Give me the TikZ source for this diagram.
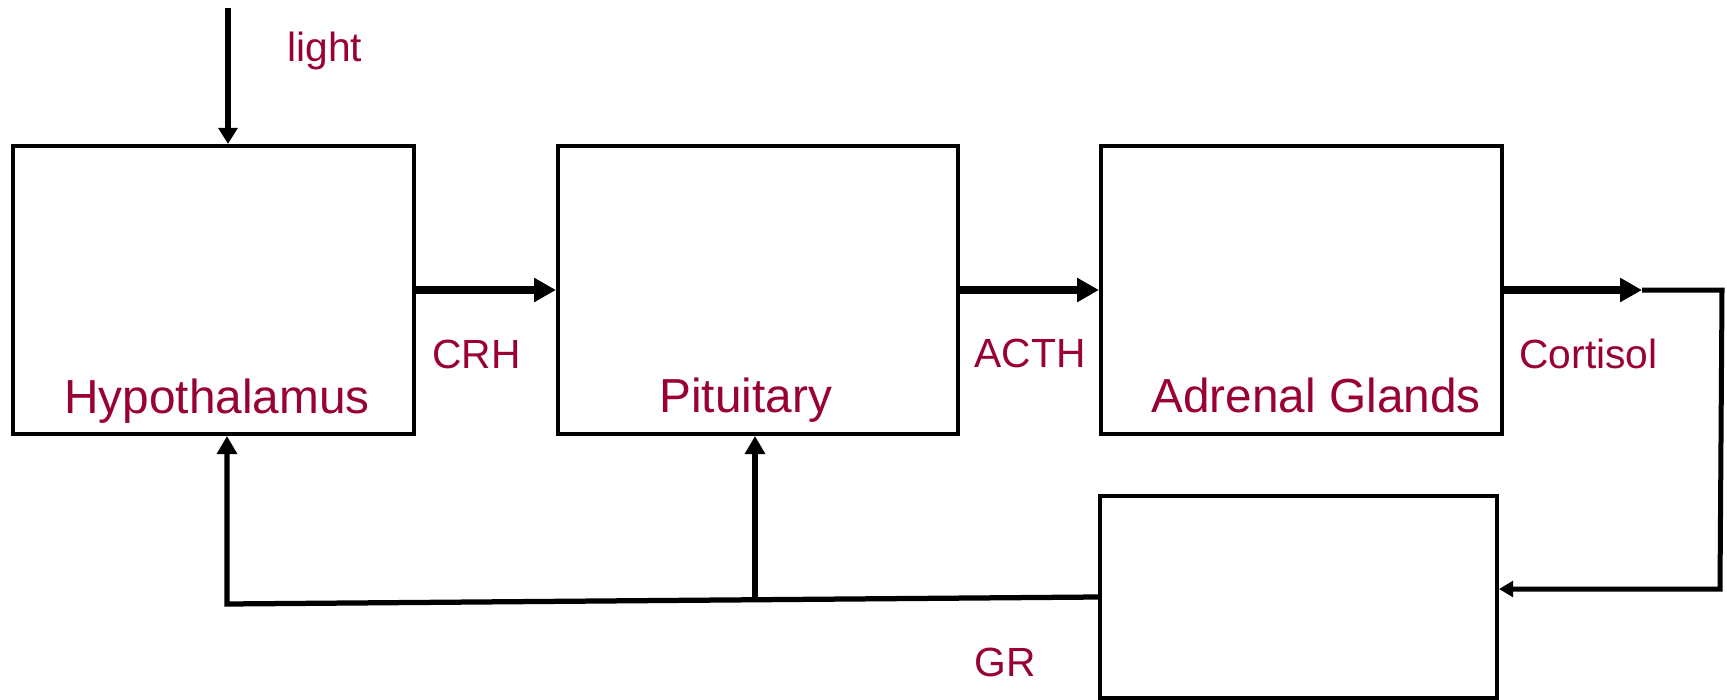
\documentclass[tikz,border=0pt]{standalone}
\usepackage{fontspec}
\setmainfont{Liberation Sans}
\usetikzlibrary{arrows.meta}
\definecolor{labelred}{RGB}{153,0,51}
\tikzset{
  box/.style={draw=black, line width=1.6pt, fill=white, inner sep=0pt, minimum height=115.2pt},
  lbl/.style={text=labelred, anchor=base west, inner sep=0pt, font=\fontsize{16.3pt}{18pt}\selectfont},
  organ/.style={text=labelred, anchor=base west, inner sep=0pt, font=\fontsize{19.1pt}{21pt}\selectfont},
  hormone/.style={line width=3.3pt, -{Triangle[length=8.8pt,width=9.2pt]}},
  lightarrow/.style={line width=2.3pt, -{Triangle[length=6.4pt,width=7.4pt]}},
  feedback/.style={line width=2.1pt, -{Triangle[length=7.2pt,width=7.8pt]}},
  returnline/.style={line width=2pt, -{Triangle[length=5.6pt,width=6.2pt]}}
}
\begin{document}
\begin{tikzpicture}[x=0.4pt, y=-0.4pt]
  \useasboundingbox (0,0) rectangle (1727,700);

  % organ boxes
  \node[box, minimum width=160.4pt] (hyp) at (213.5,290) {};
  \node[box, minimum width=160pt]   (pit) at (758,290) {};
  \node[box, minimum width=160.4pt] (adr) at (1301.5,290) {};
  \node[box, minimum width=158.8pt, minimum height=80.8pt] (gr) at (1298.5,597) {};

  % box titles
  \node[organ] (thyp) at (64,413) {Hypothalamus};
  \node[organ] (tpit) at (659,412) {Pituitary};
  \node[organ] (tadr) at (1151,412) {Adrenal Glands};

  % signal labels
  \node[lbl] (tlight) at (287,62) {light};
  \node[lbl] (tcrh) at (432,368) {CRH};
  \node[lbl] (tacth) at (974,367) {ACTH};
  \node[lbl] (tcort) at (1519,368) {Cortisol};
  \node[lbl] (tgr) at (974,676) {GR};

  % light input
  \coordinate (lt) at (228,8);
  \draw[lightarrow] (lt) -- (lt |- hyp.north);

  % hormone cascade
  \draw[hormone] (hyp.east) -- (pit.west);
  \draw[hormone] (pit.east) -- (adr.west);
  \coordinate (ctip) at (1642,290);
  \draw[hormone] (adr.east) -- (ctip);

  % cortisol loop to the receptor
  \coordinate (c1) at (1722,290);
  \coordinate (c2) at (1720,589);
  \draw[returnline] (ctip) -- (c1) -- (c2) -- (c2 -| gr.east);

  % negative feedback
  \coordinate (bl) at (227,604);
  \coordinate (br) at (755,600);
  \draw[feedback] (gr.west) -- (bl) -- (bl |- hyp.south);
  \draw[feedback] (br) -- (br |- pit.south);
\end{tikzpicture}
\end{document}
